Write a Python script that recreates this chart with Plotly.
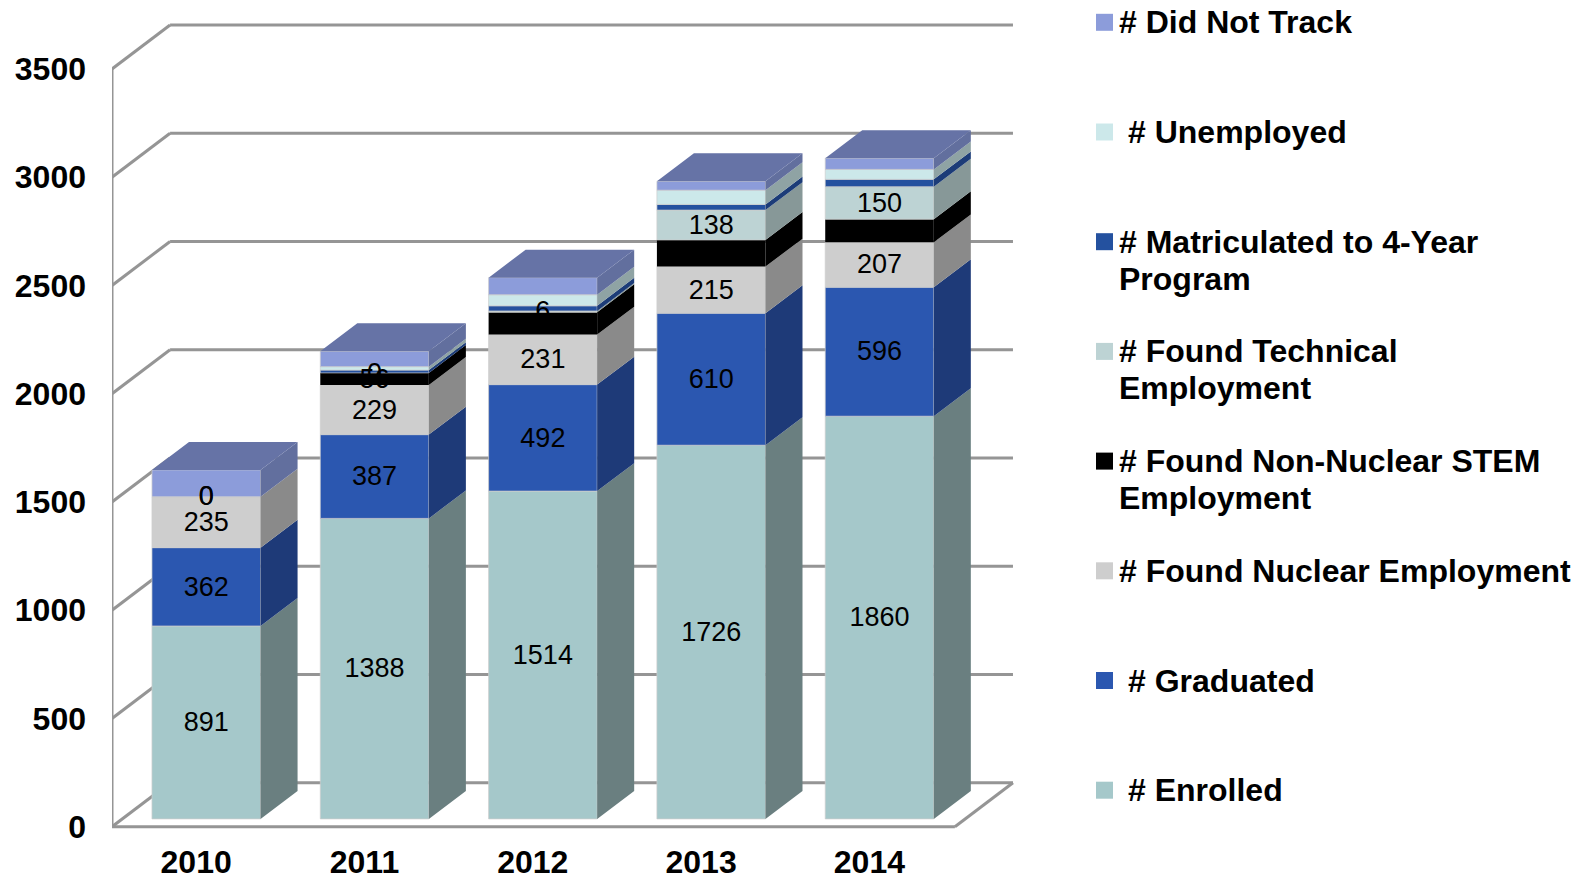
import plotly.graph_objects as go

# data
years = ["2010", "2011", "2012", "2013", "2014"]
enrolled = [891, 1388, 1514, 1726, 1860]
graduated = [362, 387, 492, 610, 596]
nuclear = [235, 229, 231, 215, 207]
non_nuclear = [0, 56, 103, 123, 107]
technical = [0, 0, 6, 138, 150]
matriculated = [0, 13, 24, 26, 34]
unemployed = [0, 16, 51, 66, 46]
did_not_track = [124, 71, 79, 41, 52]
y_ticks = [0, 500, 1000, 1500, 2000, 2500, 3000, 3500]

series = [
    ("# Enrolled", enrolled, "#A5C8CA", "#6A7F80", True),
    ("# Graduated", graduated, "#2B57B0", "#1E3A78", True),
    ("# Found Nuclear Employment", nuclear, "#CECECE", "#8A8A8A", True),
    ("# Found Non-Nuclear STEM<br>Employment", non_nuclear, "#000000", "#000000", True),
    ("# Found Technical<br>Employment", technical, "#BDD3D4", "#879898", True),
    ("# Matriculated to 4-Year<br>Program", matriculated, "#24519F", "#1C3C78", False),
    ("# Unemployed", unemployed, "#CCE8EA", "#8FA3A4", False),
    ("# Did Not Track", did_not_track, "#8C9CDA", "#626F9E", False),
]
TOP_COLOR = "#6673A6"
WALL_COLOR = "#959595"
FONT = "Liberation Sans"

# fake 3D, everything in axis units
BAR_W = 0.645
BAR_DX = 0.22
BAR_DY = 129
BAR_LIFT = 36
WALL_DX = 0.345
WALL_DY = 203
X_LEFT = -0.56
X_FLOOR = 4.448
X_BACK = 4.793
LABEL_NUDGE = 9  # text sits a little low in the original

# plot area in page pixels
PLOT_L, PLOT_R, PLOT_T, PLOT_B = 112, 1015, 20, 830


def paper_x(px):
    return (px - PLOT_L) / (PLOT_R - PLOT_L)


def paper_y(py):
    return (PLOT_B - py) / (PLOT_B - PLOT_T)


fig = go.Figure()

# walls and floor go below the traces
wall_shapes = []
for v in y_ticks:
    pts = [(X_LEFT, v), (X_LEFT + WALL_DX, v + WALL_DY), (X_BACK, v + WALL_DY)]
    for (x0, y0), (x1, y1) in zip(pts, pts[1:]):
        wall_shapes.append(dict(type="line", x0=x0, y0=y0, x1=x1, y1=y1, layer="below",
                                line=dict(color=WALL_COLOR, width=3)))
floor_pts = [(X_LEFT, y_ticks[-1]), (X_LEFT, 0), (X_FLOOR, 0), (X_BACK, WALL_DY)]
for (x0, y0), (x1, y1) in zip(floor_pts, floor_pts[1:]):
    wall_shapes.append(dict(type="line", x0=x0, y0=y0, x1=x1, y1=y1, layer="below",
                            line=dict(color=WALL_COLOR, width=3)))

# stacked segments
bases = [BAR_LIFT] * len(years)
label_x, label_y, label_text = [], [], []
for name, values, color, side_color, labelled in series:
    fig.add_trace(go.Bar(
        x=list(range(len(years))),
        y=[v if v > 0 else None for v in values],
        base=bases,
        width=BAR_W,
        marker=dict(color=color, line=dict(color="rgba(205,205,205,0.7)",
                                           width=1 if color != "#000000" else 0)),
        name=name,
        showlegend=False,
        hoverinfo="skip",
    ))
    side_x, side_y = [], []
    for i, v in enumerate(values):
        right = i + BAR_W / 2
        if v > 0:
            side_x += [right, right + BAR_DX, right + BAR_DX, right, right, None]
            side_y += [bases[i], bases[i] + BAR_DY, bases[i] + v + BAR_DY, bases[i] + v, bases[i], None]
        if labelled:
            label_x.append(i)
            label_y.append(bases[i] + v / 2 - LABEL_NUDGE)
            label_text.append(str(v))
    fig.add_trace(go.Scatter(x=side_x, y=side_y, mode="lines", fill="toself", fillcolor=side_color,
                             line=dict(width=0), showlegend=False, hoverinfo="skip"))
    bases = [b + v for b, v in zip(bases, values)]

# lid of each column
top_x, top_y = [], []
for i, b in enumerate(bases):
    left = i - BAR_W / 2
    right = i + BAR_W / 2
    top_x += [left, right, right + BAR_DX, left + BAR_DX, left, None]
    top_y += [b, b, b + BAR_DY, b + BAR_DY, b, None]
fig.add_trace(go.Scatter(x=top_x, y=top_y, mode="lines", fill="toself", fillcolor=TOP_COLOR,
                         line=dict(width=0), showlegend=False, hoverinfo="skip"))

fig.add_trace(go.Scatter(x=label_x, y=label_y, mode="text", text=label_text,
                         textposition="middle center",
                         textfont=dict(family=FONT, size=27, color="black"),
                         showlegend=False, hoverinfo="skip"))

# hand placed legend, rows are evenly spaced but the text indent is not
annotations = []
legend_shapes = []
indented = ["# Unemployed", "# Graduated", "# Enrolled"]
for row, (name, values, color, side_color, labelled) in enumerate(reversed(series)):
    cy = 22.3 + 109.7 * row
    legend_shapes.append(dict(type="rect", xref="paper", yref="paper",
                              x0=paper_x(1096), x1=paper_x(1113),
                              y0=paper_y(cy + 8.5), y1=paper_y(cy - 8.5),
                              fillcolor=color, line=dict(width=0)))
    text_x = 1126 if name in indented else 1117
    for n, part in enumerate(name.split("<br>")):
        annotations.append(dict(xref="paper", yref="paper", x=paper_x(text_x), y=paper_y(cy + 37 * n),
                                xanchor="left", yanchor="middle", showarrow=False, text=part,
                                font=dict(family=FONT, size=32, color="black", weight="bold")))

fig.update_layout(
    width=1586,
    height=876,
    autosize=False,
    barmode="overlay",
    margin=dict(l=PLOT_L, r=1586 - PLOT_R, t=PLOT_T, b=876 - PLOT_B, pad=0),
    plot_bgcolor="white",
    paper_bgcolor="white",
    shapes=wall_shapes + legend_shapes,
    annotations=annotations,
    xaxis=dict(
        range=[X_LEFT, 4.805],
        automargin=False,
        tickmode="array",
        tickvals=[i - 0.06 for i in range(len(years))],
        ticktext=years,
        showgrid=False,
        zeroline=False,
        showline=False,
        ticks="",
        ticklabelstandoff=10,
        tickfont=dict(family=FONT, size=32, color="black", weight="bold"),
    ),
    yaxis=dict(
        range=[-15.2, 3726],
        automargin=False,
        tickmode="array",
        tickvals=y_ticks,
        showgrid=False,
        zeroline=False,
        showline=False,
        ticks="",
        ticklabelstandoff=25,
        tickfont=dict(family=FONT, size=32, color="black", weight="bold"),
    ),
)

# default body margin would push the chart off by 8px
fig.write_html("out.html", post_script="document.body.style.margin='0';",
               config=dict(displayModeBar=False))
